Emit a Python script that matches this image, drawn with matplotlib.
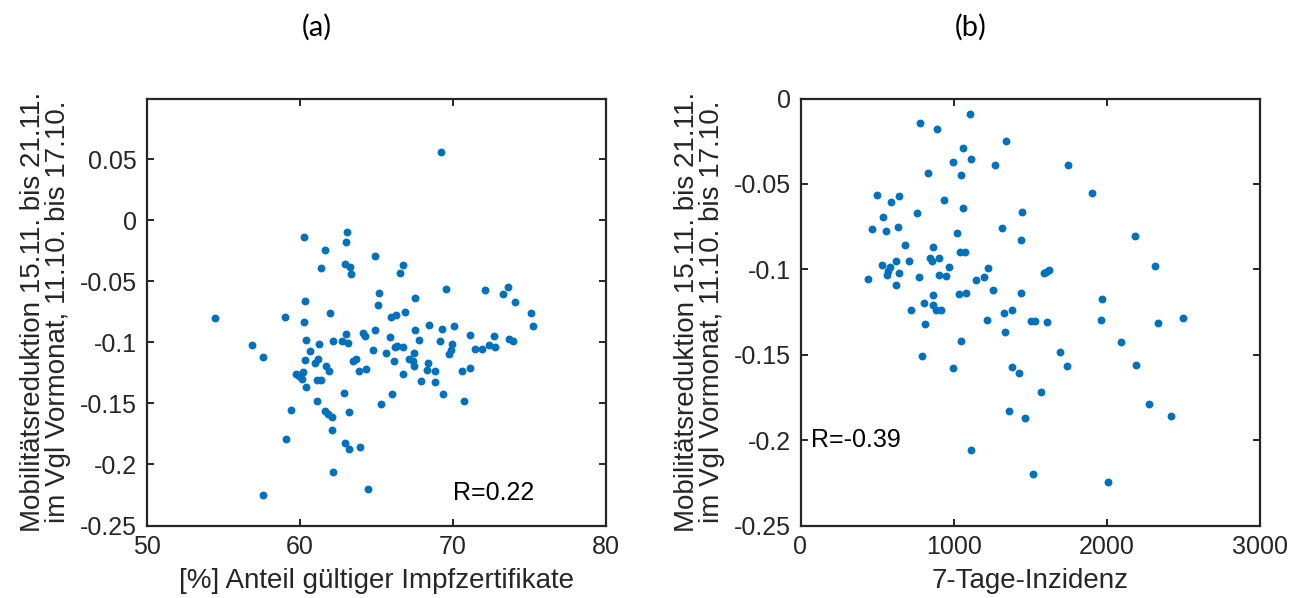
import matplotlib
matplotlib.use("Agg")
import matplotlib.pyplot as plt

# ---------------- data: panel (a) ----------------
vacc_x = [69.20, 60.29, 63.07, 63.05, 61.64, 61.40, 62.99, 63.29, 63.33, 64.92,
          66.72, 66.57, 69.57, 65.18, 65.14, 67.52, 72.13, 73.26, 73.63, 74.07,
          75.13, 75.24, 60.38, 54.47, 59.03, 60.29, 62.01, 65.98, 66.31, 66.90,
          63.05, 64.13, 64.29, 64.90, 68.42, 67.55, 69.28, 70.07, 71.15, 72.70,
          73.65, 73.96, 60.44, 61.29, 62.16, 62.74, 63.16, 65.87, 67.76, 69.18,
          69.96, 69.85, 69.72, 71.43, 71.92, 72.39, 72.74, 60.70, 64.78, 65.61,
          66.20, 66.74, 66.38, 67.48, 67.13, 67.39, 67.44, 66.15, 63.66, 63.48,
          60.38, 61.20, 60.98, 61.70, 61.92, 63.87, 64.31, 66.74, 68.37, 68.31,
          68.81, 59.75, 60.22, 59.94, 60.12, 60.44, 61.10, 61.42, 62.92, 66.00,
          69.39, 67.89, 68.83, 70.59, 71.13, 61.10, 65.31, 70.76, 56.86, 57.58,
          57.61, 64.49, 62.18, 59.09, 62.94, 63.20, 63.92, 62.14, 59.44, 61.66,
          61.88, 62.09, 63.22]
vacc_y = [0.0560, -0.0139, -0.0092, -0.0177, -0.0245, -0.0390, -0.0354, -0.0385, -0.0442, -0.0291,
          -0.0368, -0.0434, -0.0561, -0.0594, -0.0690, -0.0638, -0.0567, -0.0606, -0.0548, -0.0668,
          -0.0761, -0.0864, -0.0663, -0.0802, -0.0794, -0.0829, -0.0755, -0.0788, -0.0777, -0.0747,
          -0.0930, -0.0921, -0.0944, -0.0894, -0.0859, -0.0900, -0.0889, -0.0862, -0.0941, -0.0949,
          -0.0971, -0.0987, -0.0982, -0.1011, -0.0990, -0.0990, -0.1003, -0.0957, -0.0982, -0.0990,
          -0.1015, -0.1058, -0.1091, -0.1052, -0.1052, -0.1017, -0.1036, -0.1066, -0.1064, -0.1085,
          -0.1039, -0.1039, -0.1031, -0.1085, -0.1134, -0.1154, -0.1195, -0.1154, -0.1134, -0.1154,
          -0.1140, -0.1134, -0.1167, -0.1189, -0.1236, -0.1236, -0.1214, -0.1255, -0.1167, -0.1222,
          -0.1236, -0.1257, -0.1244, -0.1277, -0.1298, -0.1363, -0.1304, -0.1309, -0.1418, -0.1421,
          -0.1424, -0.1320, -0.1328, -0.1236, -0.1208, -0.1481, -0.1506, -0.1478, -0.1025, -0.1118,
          -0.2247, -0.2198, -0.2059, -0.1789, -0.1827, -0.1871, -0.1854, -0.1718, -0.1557, -0.1563,
          -0.1584, -0.1609, -0.1571]

# ---------------- data: panel (b) ----------------
inc_x = [1109, 783, 894, 1341, 1063, 1113, 995, 1272, 1748, 830,
         1045, 1900, 502, 641, 593, 935, 1063, 763, 1448, 541,
         465, 556, 635, 1019, 1315, 1439, 2187, 685, 865, 1039,
         1076, 845, 861, 902, 626, 711, 535, 587, 571, 565,
         967, 1223, 641, 443, 773, 904, 948, 1200, 1145, 1589,
         1604, 1621, 2317, 622, 1254, 865, 1034, 1083, 1441, 1967,
         804, 867, 884, 915, 721, 1378, 1326, 811, 1217, 1502,
         1528, 1608, 1965, 2335, 2498, 1337, 1050, 2091, 791, 1691,
         995, 1378, 1426, 1739, 2189, 1572, 1361, 1465, 2276, 2417,
         1113, 1520, 2009]
inc_y = [-0.0093, -0.0142, -0.0178, -0.0248, -0.0292, -0.0356, -0.0374, -0.0388, -0.0391, -0.0438,
         -0.0448, -0.0551, -0.0565, -0.0569, -0.0606, -0.0594, -0.0641, -0.0670, -0.0664, -0.0693,
         -0.0763, -0.0777, -0.0750, -0.0787, -0.0758, -0.0830, -0.0804, -0.0859, -0.0869, -0.0898,
         -0.0898, -0.0935, -0.0950, -0.0931, -0.0949, -0.0954, -0.0975, -0.0985, -0.1009, -0.1032,
         -0.0989, -0.0995, -0.1019, -0.1054, -0.1048, -0.1032, -0.1040, -0.1044, -0.1061, -0.1024,
         -0.1013, -0.1005, -0.0980, -0.1091, -0.1122, -0.1153, -0.1145, -0.1141, -0.1141, -0.1172,
         -0.1198, -0.1211, -0.1237, -0.1238, -0.1238, -0.1238, -0.1258, -0.1320, -0.1299, -0.1303,
         -0.1303, -0.1307, -0.1295, -0.1316, -0.1287, -0.1365, -0.1422, -0.1425, -0.1505, -0.1482,
         -0.1577, -0.1571, -0.1609, -0.1565, -0.1560, -0.1721, -0.1830, -0.1873, -0.1787, -0.1856,
         -0.2060, -0.2200, -0.2247]

# ticks and labels
a_xticks = [50, 60, 70, 80]
a_yticks = [-0.25, -0.2, -0.15, -0.1, -0.05, 0, 0.05]
a_yticklabels = ["-0.25", "-0.2", "-0.15", "-0.1", "-0.05", "0", "0.05"]
b_xticks = [0, 1000, 2000, 3000]
b_yticks = [-0.25, -0.2, -0.15, -0.1, -0.05, 0]
b_yticklabels = ["-0.25", "-0.2", "-0.15", "-0.1", "-0.05", "0"]

ylabel_text = "Mobilitätsreduktion 15.11. bis 21.11.\nim Vgl Vormonat, 11.10. bis 17.10."
a_xlabel = "[%] Anteil gültiger Impfzertifikate"
b_xlabel = "7-Tage-Inzidenz"
a_r = "R=0.22"
b_r = "R=-0.39"

# ---------------- figure ----------------
plt.rcParams['font.family'] = ['Liberation Sans', 'DejaVu Sans']
W, H = 1291, 598
fig = plt.figure(figsize=(W / 100, H / 100), dpi=100)

dot = '#0072BD'
axc = '#262626'
tick_fs = 18
label_fs = 20

def style(ax):
    for s in ax.spines.values():
        s.set_color(axc)
        s.set_linewidth(1.6)
    ax.tick_params(direction='in', length=5, width=1.4, color=axc,
                   top=True, right=True, labelsize=tick_fs, labelcolor=axc, pad=7)

axA = fig.add_axes([146.5 / W, 1 - 525.5 / H, (606 - 146.5) / W, (525.5 - 98.5) / H])
axA.scatter(vacc_x, vacc_y, s=32, color=dot, linewidths=0, zorder=3)
axA.set_xlim(50, 80)
axA.set_ylim(-0.25, 0.0999)
axA.set_xticks(a_xticks)
axA.set_xticklabels([str(t) for t in a_xticks])
axA.set_yticks(a_yticks)
axA.set_yticklabels(a_yticklabels)
style(axA)
axA.set_xlabel(a_xlabel, fontsize=label_fs, color=axc, labelpad=6)
axA.set_ylabel(ylabel_text, fontsize=label_fs, color=axc, labelpad=6, linespacing=0.95)
axA.text(70, -0.223, a_r, fontsize=tick_fs, color='black', ha='left', va='center')

axB = fig.add_axes([800.5 / W, 1 - 525.5 / H, (1260 - 800.5) / W, (525.5 - 98.5) / H])
axB.scatter(inc_x, inc_y, s=32, color=dot, linewidths=0, zorder=3)
axB.set_xlim(0, 3000)
axB.set_ylim(-0.25, 0)
axB.set_xticks(b_xticks)
axB.set_xticklabels([str(t) for t in b_xticks])
axB.set_yticks(b_yticks)
axB.set_yticklabels(b_yticklabels)
style(axB)
axB.set_xlabel(b_xlabel, fontsize=label_fs, color=axc, labelpad=6)
axB.set_ylabel(ylabel_text, fontsize=label_fs, color=axc, labelpad=6, linespacing=0.95)
axB.text(70, -0.2, b_r, fontsize=tick_fs, color='black', ha='left', va='center')

fig.text(317 / W, 1 - 27 / H, "(a)", fontsize=21, family=['Lato', 'DejaVu Sans'],
         ha='center', va='center', color='black')
fig.text(971 / W, 1 - 27 / H, "(b)", fontsize=21, family=['Lato', 'DejaVu Sans'],
         ha='center', va='center', color='black')

fig.savefig("out.png", dpi=100)
